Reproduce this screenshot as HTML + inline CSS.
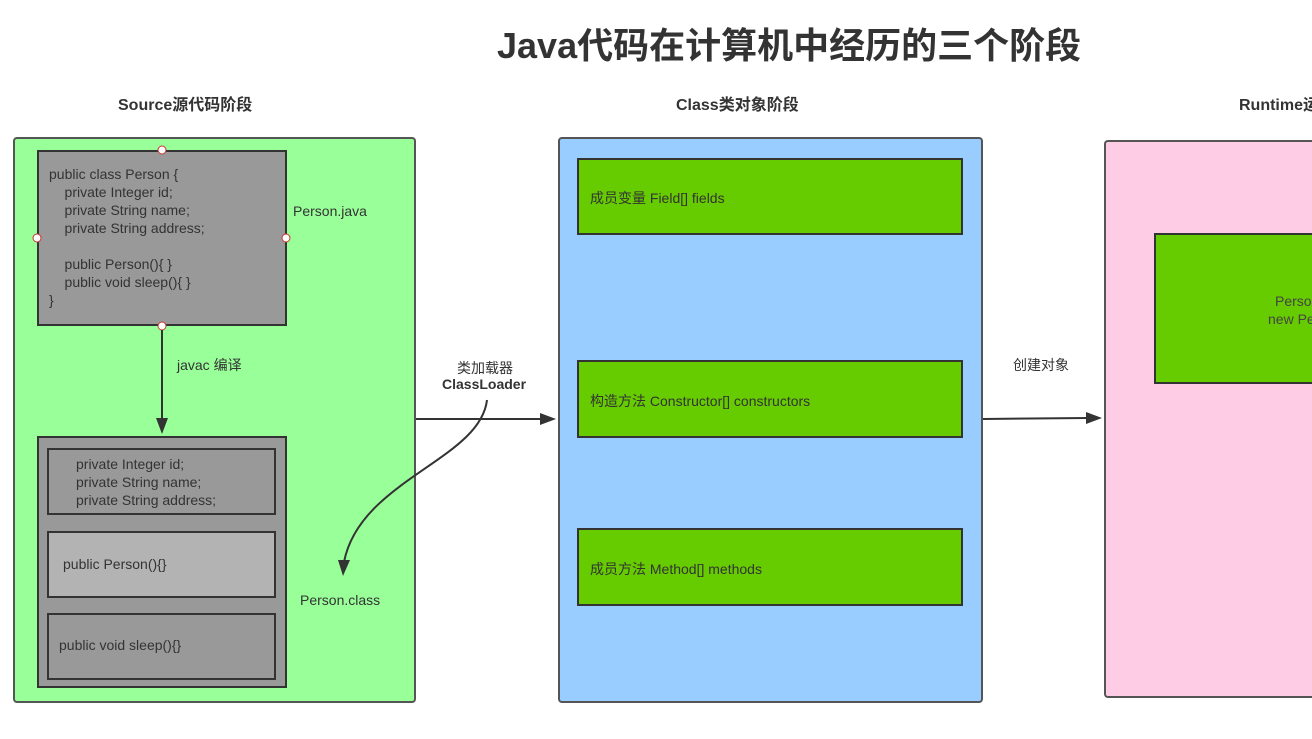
<!DOCTYPE html>
<html><head><meta charset="utf-8"><style>
*{margin:0;padding:0;box-sizing:border-box}
html,body{width:1312px;height:739px;overflow:hidden}
body{background:#fff;position:relative;font-family:"Liberation Sans","Noto Sans CJK SC",sans-serif;color:#333}
#w{position:absolute;left:0;top:0;width:1312px;height:739px;overflow:hidden}
.a{position:absolute}
.code{font-size:14px;line-height:18px;color:#333;white-space:pre}
.g{background:#66cc00;border:2px solid #333}
.t{font-size:14px;color:#333;white-space:nowrap}
</style></head><body><div id="w">
<div class="a" style="left:497px;width:600px;top:17px;font-size:36px;font-weight:bold;color:#333;white-space:nowrap">Java代码在计算机中经历的三个阶段</div>
<div class="a t" style="left:118px;top:91px;font-size:16px;font-weight:bold">Source源代码阶段</div>
<div class="a t" style="left:676px;top:91px;font-size:16px;font-weight:bold">Class类对象阶段</div>
<div class="a t" style="left:1239px;top:91px;font-size:16px;font-weight:bold">Runtime运</div>

<div class="a" style="left:13px;top:137px;width:403px;height:566px;background:#99ff99;border:2px solid #555;border-radius:4px"></div>
<div class="a" style="left:37px;top:150px;width:250px;height:176px;background:#999;border:2px solid #333"></div>
<div class="a code" style="left:49px;top:165px">public class Person {
    private Integer id;
    private String name;
    private String address;

    public Person(){ }
    public void sleep(){ }
}</div>
<div class="a t" style="left:293px;top:203px">Person.java</div>
<div class="a t" style="left:177px;top:355px">javac 编译</div>
<div class="a" style="left:37px;top:436px;width:250px;height:252px;background:#999;border:2px solid #333"></div>
<div class="a" style="left:47px;top:448px;width:229px;height:67px;background:#999;border:2px solid #333"></div>
<div class="a code" style="left:76px;top:455px">private Integer id;
private String name;
private String address;</div>
<div class="a" style="left:47px;top:531px;width:229px;height:67px;background:#b3b3b3;border:2px solid #333"></div>
<div class="a t" style="left:63px;top:556px">public Person(){}</div>
<div class="a" style="left:47px;top:613px;width:229px;height:67px;background:#999;border:2px solid #333"></div>
<div class="a t" style="left:59px;top:637px">public void sleep(){}</div>
<div class="a t" style="left:300px;top:592px">Person.class</div>

<div class="a" style="left:558px;top:137px;width:425px;height:566px;background:#99ccff;border:2px solid #555;border-radius:4px"></div>
<div class="a g" style="left:577px;top:158px;width:386px;height:77px"></div>
<div class="a t" style="left:590px;top:188px">成员变量 Field[] fields</div>
<div class="a g" style="left:577px;top:360px;width:386px;height:78px"></div>
<div class="a t" style="left:590px;top:391px">构造方法 Constructor[] constructors</div>
<div class="a g" style="left:577px;top:528px;width:386px;height:78px"></div>
<div class="a t" style="left:590px;top:559px">成员方法 Method[] methods</div>

<div class="a" style="left:1104px;top:140px;width:220px;height:558px;background:#ffcce6;border:2px solid #555;border-right:none;border-radius:4px 0 0 4px"></div>
<div class="a g" style="left:1154px;top:233px;width:170px;height:151px;border-right:none"></div>
<div class="a t" style="left:1275px;top:292px;line-height:18px;color:#444">Perso</div>
<div class="a t" style="left:1268px;top:310px;line-height:18px;color:#444">new Pe</div>

<div class="a t" style="left:457px;top:358px">类加载器</div>
<div class="a t" style="left:442px;top:376px;font-weight:bold">ClassLoader</div>
<div class="a t" style="left:1013px;top:355px">创建对象</div>

<svg class="a" style="left:0;top:0" width="1312" height="739">
<g fill="#333">
<circle cx="162" cy="150" r="4" fill="#fff" stroke="#c33" stroke-width="1"/>
<circle cx="37" cy="238" r="4" fill="#fff" stroke="#c33" stroke-width="1"/>
<circle cx="286" cy="238" r="4" fill="#fff" stroke="#c33" stroke-width="1"/>
<circle cx="162" cy="326" r="4" fill="#fff" stroke="#c33" stroke-width="1"/>
<line x1="162" y1="330" x2="162" y2="420" stroke="#333" stroke-width="2"/>
<polygon points="156,418 168,418 162,434"/>
<line x1="416" y1="419" x2="542" y2="419" stroke="#333" stroke-width="2"/>
<polygon points="540,413 540,425 556,419"/>
<line x1="983" y1="419" x2="1088" y2="418" stroke="#333" stroke-width="2"/>
<polygon points="1086,412 1086,424 1102,418"/>
<path d="M487,400 C480,460 360,480 344,562" fill="none" stroke="#333" stroke-width="2"/>
<polygon points="338,560 350,560 343,576"/>
</g>
</svg>
</div></body></html>
